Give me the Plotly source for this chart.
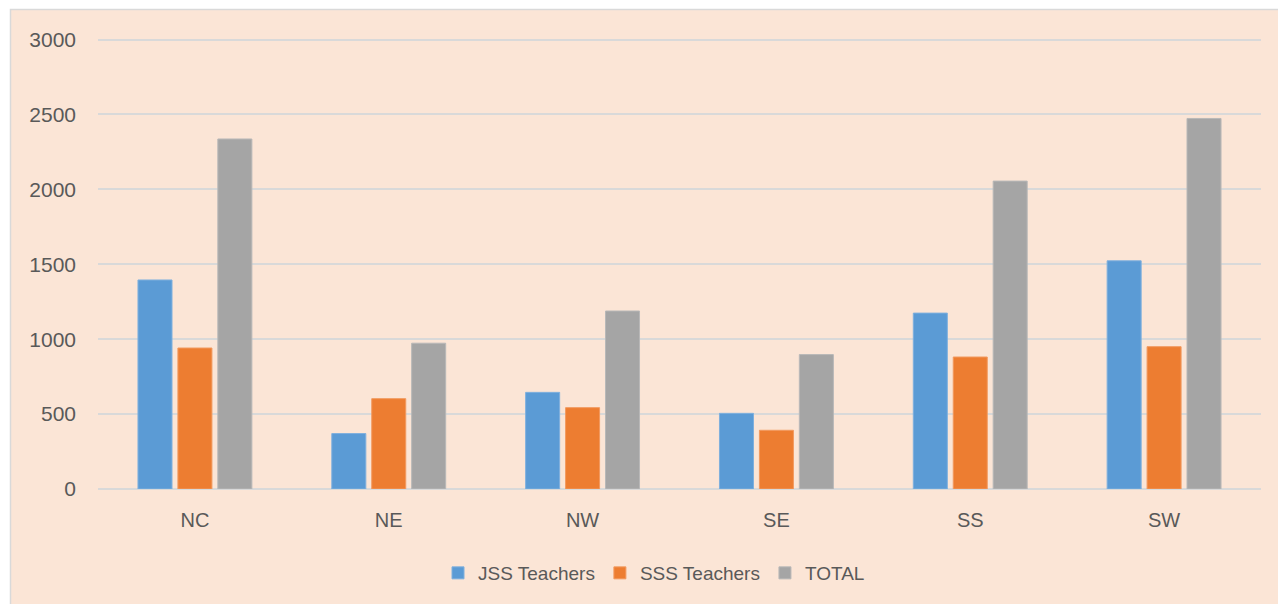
import plotly.graph_objects as go

regions = ["NC", "NE", "NW", "SE", "SS", "SW"]
jss_teachers = [1395, 370, 645, 505, 1174, 1523]
sss_teachers = [941, 603, 543, 392, 881, 950]
total = [2336, 973, 1188, 897, 2055, 2473]
y_ticks = [0, 500, 1000, 1500, 2000, 2500, 3000]

BG = "#FBE5D6"
GRID = "#D9D9D9"
TXT = "#595959"
FONT = "Liberation Sans, Arial, sans-serif"

fig = go.Figure()
series = [
    ("JSS Teachers", jss_teachers, "#5B9BD5", "#7FB0DE"),
    ("SSS Teachers", sss_teachers, "#ED7D31", "#F29A60"),
    ("TOTAL", total, "#A5A5A5", "#B8B8B8"),
]
for name, vals, col, edge in series:
    fig.add_trace(go.Bar(
        x=regions, y=vals, name=name,
        marker=dict(color=col, line=dict(color=edge, width=1)),
    ))

FW, FH = 1278, 604
L, R, T, B = 98, 17, 38, 115
W = FW - L - R
H = FH - T - B
fig.add_shape(
    type="rect", xref="paper", yref="paper", layer="below",
    x0=(10.5 - L) / W, x1=1.1,
    y0=-0.4, y1=(FH - B - 9.5) / H,
    fillcolor=BG, line=dict(color=GRID, width=1.5),
)

fig.update_layout(
    width=FW, height=FH,
    margin=dict(l=L, r=R, t=T, b=B),
    paper_bgcolor="white",
    plot_bgcolor=BG,
    barmode="group",
    bargap=0.382,
    bargroupgap=0.148,
    font=dict(family=FONT, color=TXT),
    showlegend=True,
    legend=dict(
        orientation="h", xanchor="center", yanchor="middle",
        x=(654 - L) / W, y=(FH - B - 573) / H,
        font=dict(size=19, color=TXT, family=FONT),
        bgcolor="rgba(0,0,0,0)",
    ),
    xaxis=dict(
        showgrid=False, showline=False, ticks="",
        tickfont=dict(size=20, color=TXT, family=FONT),
        ticklabelstandoff=17,
    ),
    yaxis=dict(
        range=[0, 3010], tickvals=y_ticks,
        showgrid=True, gridcolor=GRID, gridwidth=1.5,
        zeroline=True, zerolinecolor=GRID, zerolinewidth=1.5,
        showline=False, ticks="",
        tickfont=dict(size=21, color=TXT, family=FONT),
        ticklabelstandoff=21,
    ),
)

fig.write_html(
    "out.html",
    config={"displayModeBar": False},
    post_script=(
        "document.body.style.margin='0';"
        "document.documentElement.style.overflow='hidden';"
        "document.body.style.overflow='hidden';"
    ),
)
